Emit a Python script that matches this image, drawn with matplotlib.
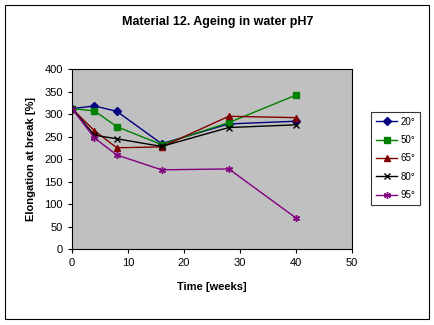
import matplotlib
matplotlib.use("Agg")
import matplotlib.pyplot as plt
from matplotlib.patches import Rectangle

weeks = [0, 4, 8, 16, 28, 40]
s20 = [312, 318, 306, 234, 278, 284]
s50 = [312, 307, 272, 232, 281, 342]
s65 = [312, 263, 225, 227, 295, 292]
s80 = [312, 253, 245, 228, 270, 276]
s95 = [312, 247, 209, 176, 178, 69]
labels = ["20°", "50°", "65°", "80°", "95°"]

plt.rcParams['font.family'] = ['Liberation Sans', 'DejaVu Sans']
fig = plt.figure(figsize=(4.35, 3.25), dpi=100)
fig.patch.set_facecolor('white')
fig.add_artist(Rectangle((0.0115, 0.0185), 0.975, 0.966, transform=fig.transFigure,
                         fill=False, edgecolor='black', linewidth=0.8))

ax = fig.add_axes([0.1655, 0.2338, 0.6437, 0.5538])
ax.set_facecolor('#C0C0C0')

styles = [
    (s20, '#000080', 'D', 4),
    (s50, '#008000', 's', 4.5),
    (s65, '#800000', '^', 5),
    (s80, '#000000', 'x', 4),
    (s95, '#800080', (6, 2, 0), 5),
]
for (vals, c, m, ms), lab in zip(styles, labels):
    ax.plot(weeks, vals, color=c, marker=m, markersize=ms, linewidth=1,
            markerfacecolor=c, markeredgecolor=c, label=lab)

ax.set_xlim(0, 50)
ax.set_ylim(0, 400)
ax.set_xticks(range(0, 51, 10))
ax.set_yticks(range(0, 401, 50))
ax.tick_params(labelsize=8, length=3, direction='out', width=0.8)
for sp in ax.spines.values():
    sp.set_linewidth(0.8)
ax.set_xlabel("Time [weeks]", fontsize=8, fontweight='bold', labelpad=10)
ax.set_ylabel("Elongation at break [%]", fontsize=8, fontweight='bold', labelpad=6)
fig.text(0.5, 0.932, "Material 12. Ageing in water pH7", ha='center', va='center',
         fontsize=9, fontweight='bold')

leg = fig.legend(loc='upper left', bbox_to_anchor=(0.853, 0.6554), fontsize=7,
                 frameon=True, fancybox=False, edgecolor='black', handlelength=2.2,
                 borderpad=0.5, labelspacing=0.85, handletextpad=0.3,
                 borderaxespad=0)
leg.get_frame().set_linewidth(0.8)

fig.savefig("out.png", dpi=100)
